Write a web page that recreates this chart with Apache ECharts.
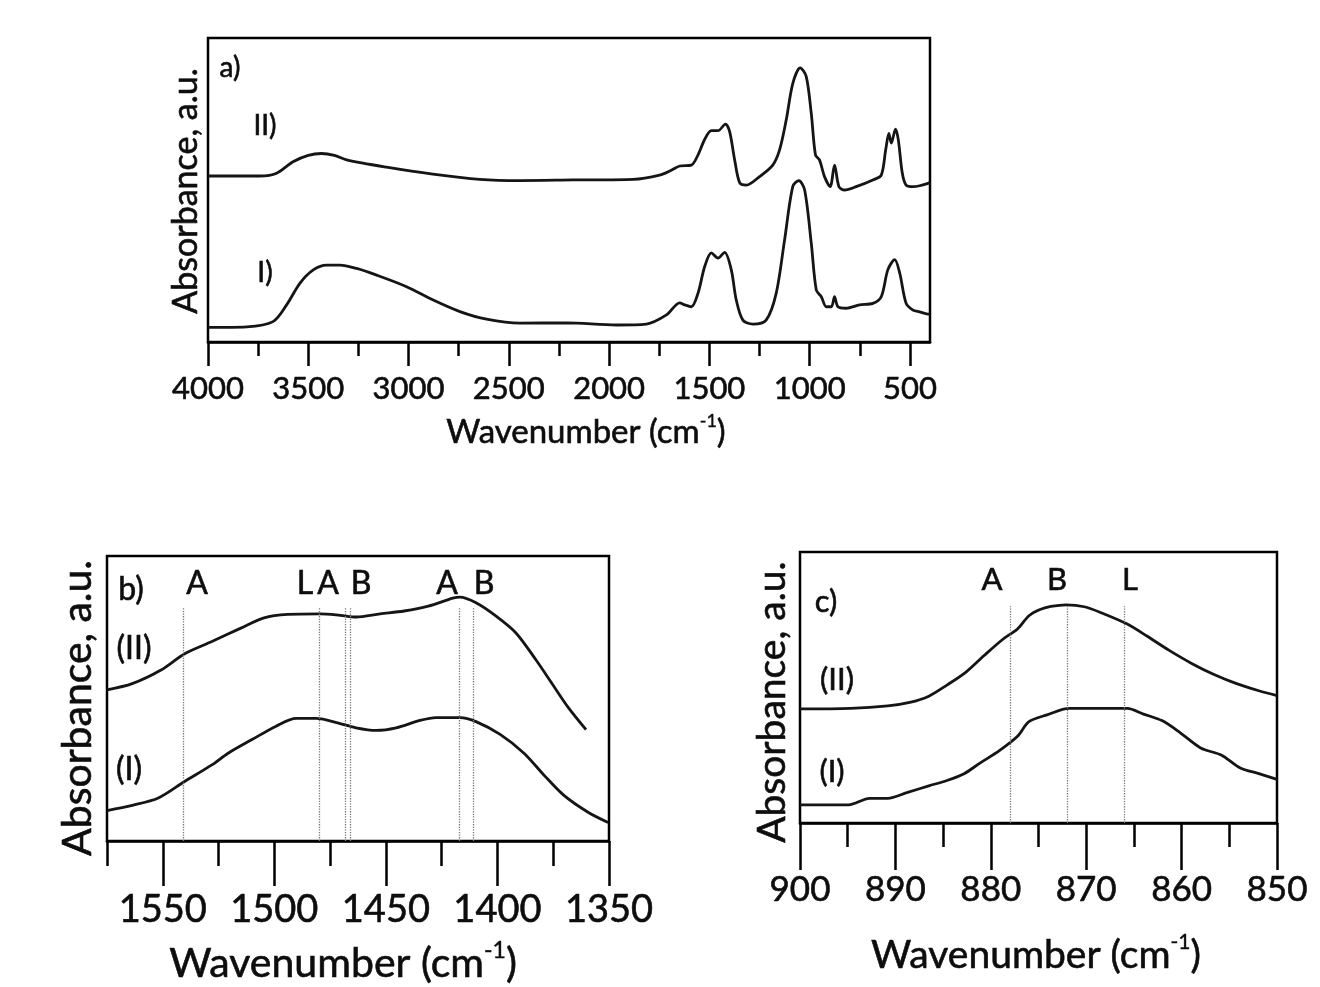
<!DOCTYPE html>
<html><head><meta charset="utf-8">
<script src="https://cdn.jsdelivr.net/npm/echarts@6/dist/echarts.min.js"></script>
<style>html,body{margin:0;padding:0;background:#fff}#c{width:1320px;height:987px}</style>
</head><body><div id="c"></div>
<script>
// ---- Panel a data ----
const aWaveI = [4000,3807,3676,3608,3542,3475,3409,3342,3259,3159,3010,2877,2744,2611,2445,2213,1964,1814,1714,1648,1623,1590,1557,1523,1490,1457,1424,1391,1366,1333,1283,1217,1167,1125,1084,1054,1025,992,967,942,917,892,876,859,818,751,685,643,610,576,551,519,485,452,410,400];
const aAbsI  = [4.8,5,6.7,12.2,19.3,23.7,25.3,25.3,24.2,22,18.2,13.8,10,7.5,6.2,6.3,5.6,5.9,8.9,12.9,12.2,11.6,16,24.9,29.3,27.6,29.5,23.8,13.8,7.2,5.9,7.2,16,33.6,51.2,53.1,50,32.5,17.1,14.9,11.6,11.6,14.9,11.6,11.1,12.2,12.7,14.9,23.8,27.1,22.7,12.7,10.5,9.9,9.2,9.2];
const aWaveII = [4000,3741,3658,3576,3500,3435,3370,3309,3110,2879,2645,2445,2179,1880,1748,1690,1648,1590,1557,1523,1490,1457,1420,1399,1374,1349,1316,1250,1184,1150,1117,1084,1047,1017,992,971,951,926,898,876,854,826,768,685,643,621,605,593,572,558,538,519,485,452,410,400];
const aAbsII  = [54.6,54.6,55.5,59.3,61.4,62,61.4,59.9,57.5,55.2,53.5,53.1,53.3,53.5,54.9,56.5,57.9,58.2,61.5,66.7,69.5,69.5,71.7,69.2,59.9,52.4,51.6,54.4,58.2,63.2,73,85.1,90.2,87.3,75.2,61.5,59.9,54.4,51.1,58.2,51.1,50,51.1,53.3,54.9,63.2,68.6,65.4,70,66.5,55.5,51.6,51.1,51.4,52.2,52.5];
const aMajorTicks = [4000,3500,3000,2500,2000,1500,1000,500];
const aMinorTicks = [3750,3250,2750,2250,1750,1250,750];

// ---- Panel b data ----
const bWaveI = [1575,1563.7,1552,1540.4,1528,1520.7,1510,1499.2,1490.2,1481.3,1470.5,1463.4,1454.4,1445.4,1434.7,1427.5,1416.8,1409.6,1398.8,1388.1,1379.1,1370.2,1359.4,1350.4];
const bAbsI  = [10.7,12.5,15.1,20.8,26.7,30.8,35.6,40.3,43,43,41.2,39.7,38.8,39.7,42.3,43.3,43.3,41.9,37.4,30.8,23.1,16,10.1,6.5];
const bWaveII = [1575,1563.7,1551,1540,1528,1515,1504.6,1494,1479.5,1470.5,1463.4,1452.6,1441.8,1431,1420,1416.8,1409.6,1400.6,1391.7,1382.7,1375.5,1368.3,1360.3];
const bAbsII  = [53,55.2,59.9,65.8,70,74.7,78.3,79.5,79.7,79.2,78.6,79.7,80.7,82.4,85.2,85.6,83.6,78.9,73,63.5,55.2,46.9,39.1];
const bMarkers = [1541,1480,1468,1466,1417,1411];
const bMarkerTop = 82;
const bMajorTicks = [1550,1500,1450,1400,1350];
const bMinorTicks = [1575,1525,1475,1425,1375];

// ---- Panel c data ----
const cWaveI = [900,894.9,892.7,890.8,888.8,886.5,884.6,882.8,881.1,879.1,877.2,876,874.1,871.8,869,865.7,864,862,860.1,858,855.8,853.9,851.9,850];
const cAbsI  = [6.7,6.7,9.1,9.1,11.2,13.7,15.7,18.2,22.2,26.7,32,37.4,39.9,42.3,42.3,42.3,40.2,37.7,33.2,27.7,25,20.4,18.2,16.1];
const cWaveII = [900,894.7,890.8,888.5,886.5,884.6,882.6,880.7,878.7,877.2,876,874.9,873.7,872.1,870.2,868.3,865.7,863.6,861.3,858.9,856.6,854.3,851.9,850];
const cAbsII  = [42.1,42.3,43.2,44.5,46.8,50.9,55.7,61.8,67.9,71.6,76.5,78.7,79.9,80.5,79.8,77.4,73.4,68.9,63.7,58.8,54.8,51.5,48.8,47];
const cMarkers = [878,872,866];
const cMarkerTop = 80;
const cMajorTicks = [900,890,880,870,860,850];
const cMinorTicks = [895,885,875,865,855];

const FONT = 'Lato';
const INK = '#0d0d0d';
const zip = (xs, ys) => xs.map((x, i) => [x, ys[i]]);

function xAxesFor(gridIndex, min, max, major, minor, majLen, minLen, labelSize, margin) {
  return [
    { type:'value', gridIndex, min, max, inverse:true, position:'bottom',
      axisLine:{show:true, onZero:false, lineStyle:{color:'#000', width:2.5}},
      axisTick:{show:true, customValues:major, length:majLen, lineStyle:{color:'#000', width:2.5}},
      axisLabel:{show:true, customValues:major, margin, fontFamily:FONT, fontSize:labelSize, color:INK,
        textBorderColor:INK, textBorderWidth:0.6, formatter:v => String(v)},
      splitLine:{show:false}, minorTick:{show:false} },
    { type:'value', gridIndex, min, max, inverse:true, position:'bottom',
      axisLine:{show:false, onZero:false},
      axisTick:{show:true, customValues:minor, length:minLen, lineStyle:{color:'#000', width:2.5}},
      axisLabel:{show:false}, splitLine:{show:false} }
  ];
}

function lineSeries(xIdx, yIdx, data, extra) {
  return Object.assign({
    type:'line', xAxisIndex:xIdx, yAxisIndex:yIdx, data, showSymbol:false, symbol:'none',
    smooth:0.3, lineStyle:{color:'#151515', width:2.8}, silent:true, animation:false
  }, extra || {});
}

function markLines(markers, top) {
  return {
    silent:true, symbol:['none','none'], label:{show:false},
    lineStyle:{type:'dotted', color:'#7a7a7a', width:1.3},
    data: markers.map(v => [{coord:[v, 0]}, {coord:[v, top]}])
  };
}

function txt(x, y, text, size, opts) {
  return Object.assign({
    type:'text', x, y, silent:true,
    style:{ text, fontFamily:FONT, fontSize:size, fill:INK, stroke:INK, lineWidth:0.6,
      align:'center', verticalAlign:'middle', textAlign:'center', textVerticalAlign:'middle' }
  }, opts || {});
}
function ytitle(x, y, size) {
  return txt(x, y, 'Absorbance, a.u.', size, {rotation:Math.PI/2});
}
function xtitle(x, y, size) {
  return {
    type:'text', x, y, silent:true,
    style:{ text:'{m|Wavenumber (cm}{s|-1}{m|)}', align:'center', verticalAlign:'middle',
      textAlign:'center', textVerticalAlign:'middle',
      rich:{ m:{fontFamily:FONT, fontSize:size, fill:INK, stroke:INK, lineWidth:0.6, lineHeight:size*1.2},
             s:{fontFamily:FONT, fontSize:Math.round(size*0.55), fill:INK, stroke:INK, lineWidth:0.4, verticalAlign:'top', lineHeight:size*1.2} } }
  };
}

const chart = echarts.init(document.getElementById('c'), null, {renderer:'canvas'});
chart.setOption({
  animation:false,
  backgroundColor:'#ffffff',
  grid:[
    {left:208, right:390, top:38, bottom:645, show:true, borderColor:'#000', borderWidth:2.5},
    {left:107, right:711, top:556, bottom:146, show:true, borderColor:'#000', borderWidth:2.5},
    {left:800, right:43, top:552, bottom:164, show:true, borderColor:'#000', borderWidth:2.5}
  ],
  xAxis:[
    ...xAxesFor(0, 400, 4000, aMajorTicks, aMinorTicks, 24, 14, 31, 31),
    ...xAxesFor(1, 1350, 1575, bMajorTicks, bMinorTicks, 45, 25, 38, 50),
    ...xAxesFor(2, 850, 900, cMajorTicks, cMinorTicks, 47, 24, 35, 49)
  ],
  yAxis:[0,1,2].map(g => ({type:'value', gridIndex:g, min:0, max:100, show:false})),
  series:[
    lineSeries(0, 0, zip(aWaveI, aAbsI)),
    lineSeries(0, 0, zip(aWaveII, aAbsII)),
    lineSeries(2, 1, zip(bWaveI, bAbsI), {markLine:markLines(bMarkers, bMarkerTop)}),
    lineSeries(2, 1, zip(bWaveII, bAbsII)),
    lineSeries(4, 2, zip(cWaveI, cAbsI), {markLine:markLines(cMarkers, cMarkerTop)}),
    lineSeries(4, 2, zip(cWaveII, cAbsII))
  ],
  graphic:[
    // panel a
    ytitle(186, 191, 34),
    xtitle(586, 432, 33),
    txt(230, 68, 'a)', 28),
    txt(265, 126, 'II)', 28),
    txt(265, 273, 'I)', 28),
    // panel b
    ytitle(78, 708, 41),
    xtitle(343, 964, 41),
    txt(131, 590, 'b)', 32),
    txt(134, 649, '(II)', 32),
    txt(129, 770, '(I)', 32),
    txt(197, 584, 'A', 32),
    txt(305, 584, 'L', 32),
    txt(328, 584, 'A', 32),
    txt(361, 584, 'B', 32),
    txt(447, 584, 'A', 32),
    txt(484, 584, 'B', 32),
    // panel c
    ytitle(772, 702, 39),
    xtitle(1036, 955, 39),
    txt(826, 602, 'c)', 31),
    txt(837, 680, '(II)', 31),
    txt(832, 772, '(I)', 31),
    txt(992, 580, 'A', 31),
    txt(1057, 580, 'B', 31),
    txt(1130, 580, 'L', 31)
  ]
});
</script>
</body></html>
